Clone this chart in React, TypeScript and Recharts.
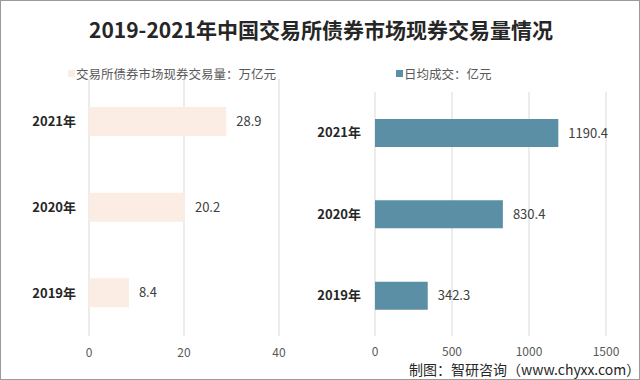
import React from 'react';
import { BarChart, Bar, XAxis, YAxis, CartesianGrid, LabelList } from 'recharts';

const categories = ['2019年', '2020年', '2021年'];
const volumeValues = [8.4, 20.2, 28.9];
const dailyValues = [342.3, 830.4, 1190.4];
const leftTicks = [0, 20, 40];
const rightTicks = [0, 500, 1000, 1500];

const leftData = categories.map((c, i) => ({ name: c, value: volumeValues[i] }));
const rightData = categories.map((c, i) => ({ name: c, value: dailyValues[i] }));

const FONT = '"Noto Sans CJK SC", "Noto Sans", sans-serif';

const legendStyle: React.CSSProperties = {
  position: 'absolute',
  top: 63,
  fontSize: 12.5,
  color: '#595959',
  fontFamily: FONT,
  display: 'flex',
  alignItems: 'center',
  whiteSpace: 'nowrap',
};

export default function App() {
  return (
    <div
      style={{
        position: 'absolute',
        left: 0,
        top: 0,
        width: 640,
        height: 380,
        background: '#ffffff',
        border: '1px solid #9a9a9a',
        boxSizing: 'border-box',
        fontFamily: FONT,
        overflow: 'hidden',
      }}
    >
      <div
        style={{
          position: 'absolute',
          left: 0,
          top: 13,
          width: 640,
          textAlign: 'center',
          fontSize: 21,
          fontWeight: 'bold',
          color: '#262626',
          lineHeight: '30px',
        }}
      >
        2019-2021年中国交易所债券市场现券交易量情况
      </div>

      <div style={{ ...legendStyle, left: 67 }}>
        <span style={{ width: 7, height: 7, background: '#FBEDE3', marginRight: 1, display: 'inline-block' }} />
        <span>交易所债券市场现券交易量：万亿元</span>
      </div>
      <div style={{ ...legendStyle, left: 395 }}>
        <span style={{ width: 7, height: 7, background: '#5A8FA5', marginRight: 1, display: 'inline-block' }} />
        <span>日均成交：亿元</span>
      </div>

      <div style={{ position: 'absolute', left: 0, top: 0 }}>
        <BarChart
          width={320}
          height={380}
          data={leftData}
          layout="vertical"
          margin={{ top: 78, right: 42, bottom: 0, left: 0 }}
        >
          <CartesianGrid horizontal={false} stroke="#d9d9d9" />
          <XAxis
            type="number"
            domain={[0, 40]}
            ticks={leftTicks}
            axisLine={false}
            tickLine={false}
            tickSize={0}
            tickMargin={12}
            height={45}
            tick={{ fill: '#595959', fontSize: 12, fontFamily: FONT }}
          />
          <YAxis
            type="category"
            dataKey="name"
            reversed
            width={88}
            axisLine={false}
            tickLine={false}
            tickSize={0}
            tickMargin={13}
            tick={{ fill: '#262626', fontSize: 13, fontWeight: 'bold', fontFamily: FONT }}
          />
          <Bar dataKey="value" fill="#FBEDE3" barSize={29} isAnimationActive={false}>
            <LabelList dataKey="value" position="right" offset={10} fill="#404040" fontSize={13} fontFamily={FONT} />
          </Bar>
        </BarChart>
      </div>

      <div style={{ position: 'absolute', left: 290, top: 0 }}>
        <BarChart
          width={350}
          height={380}
          data={rightData}
          layout="vertical"
          margin={{ top: 91, right: 35, bottom: 0, left: 0 }}
        >
          <CartesianGrid horizontal={false} stroke="#d9d9d9" />
          <XAxis
            type="number"
            domain={[0, 1500]}
            ticks={rightTicks}
            axisLine={false}
            tickLine={false}
            tickSize={0}
            tickMargin={11}
            height={45}
            tick={{ fill: '#595959', fontSize: 12, fontFamily: FONT }}
          />
          <YAxis
            type="category"
            dataKey="name"
            reversed
            width={84}
            axisLine={false}
            tickLine={false}
            tickSize={0}
            tickMargin={14}
            tick={{ fill: '#262626', fontSize: 13, fontWeight: 'bold', fontFamily: FONT }}
          />
          <Bar dataKey="value" fill="#5A8FA5" barSize={28} isAnimationActive={false}>
            <LabelList dataKey="value" position="right" offset={10} fill="#404040" fontSize={13} fontFamily={FONT} />
          </Bar>
        </BarChart>
      </div>

      <div
        style={{
          position: 'absolute',
          left: 408,
          top: 360,
          fontSize: 14,
          color: '#262626',
          lineHeight: '17px',
          whiteSpace: 'nowrap',
        }}
      >
        制图：智研咨询（www.chyxx.com）
      </div>
    </div>
  );
}
